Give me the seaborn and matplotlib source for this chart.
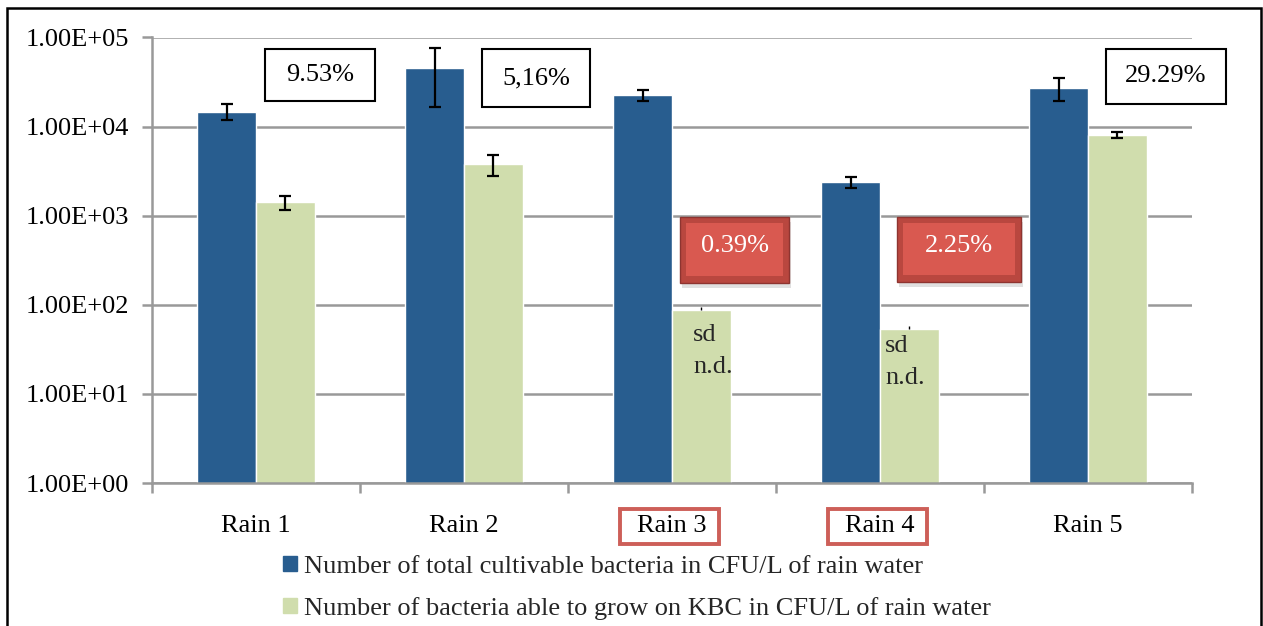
import pandas as pd
import matplotlib
matplotlib.use("Agg")
import matplotlib.pyplot as plt
import matplotlib.patches as mpatches
from matplotlib.ticker import FuncFormatter, FixedLocator
import seaborn as sns

sns.set_theme(style="white")
FONT = "Liberation Serif"
plt.rcParams['font.family'] = 'serif'
plt.rcParams['font.serif'] = [FONT, 'DejaVu Serif']

# Dữ liệu
categories = ["Rain 1", "Rain 2", "Rain 3", "Rain 4", "Rain 5"]
total_cfu = [14750, 46000, 22500, 2390, 27400]
total_err = [3000, 29500, 3200, 340, 7800]
kbc_cfu = [1415, 3810, 87, 53, 8070]
kbc_err = [260, 1050, 7, 5, 550]
kbc_sd_nd = [False, False, True, True, False]
series = ["Number of total cultivable bacteria in CFU/L of rain water",
          "Number of bacteria able to grow on KBC in CFU/L of rain water"]
percent_labels = ["9.53%", "5,16%", "0.39%", "2.25%", "29.29%"]

BLUE = "#285d8f"
GREEN = "#d0ddad"
FS = 19

df = pd.DataFrame({
    "rain": categories * 2,
    "value": total_cfu + kbc_cfu,
    "series": [series[0]] * 5 + [series[1]] * 5,
})

W, H = 1263, 626
fig = plt.figure(figsize=(W / 100, H / 100), dpi=100)
ax = fig.add_axes([152 / W, 1 - 483 / H, (1192 - 152) / W, (483 - 37.5) / H])

sns.barplot(data=df, x="rain", y="value", hue="series", order=categories,
            hue_order=series, palette=[BLUE, GREEN], width=0.567,
            saturation=1, ax=ax, legend=False, zorder=2)
ax.set_yscale("log")
ax.set_ylim(1, 1e5)
ax.set_xlim(-0.5, 4.5)

# error bars
blue_bars, green_bars = ax.containers[0], ax.containers[1]
xs = [b.get_x() + b.get_width() / 2 for b in blue_bars]
ax.errorbar(xs, total_cfu, yerr=total_err, fmt="none", ecolor="black",
            elinewidth=1.6, capsize=4.5, capthick=1.6, zorder=3)
for b, v, e, nd in zip(green_bars, kbc_cfu, kbc_err, kbc_sd_nd):
    x = b.get_x() + b.get_width() / 2
    if nd:
        ax.errorbar([x], [v], yerr=[[0], [e]], fmt="none", ecolor="black",
                    elinewidth=1, capsize=0, zorder=3)
    else:
        ax.errorbar([x], [v], yerr=e, fmt="none", ecolor="black",
                    elinewidth=1.6, capsize=4.5, capthick=1.6, zorder=3)

# trục
ax.yaxis.set_major_locator(FixedLocator([10 ** i for i in range(6)]))
ax.yaxis.set_minor_locator(FixedLocator([]))
ax.yaxis.set_major_formatter(FuncFormatter(lambda v, p: f"{v:.2E}"))
ax.grid(axis="y", color="#999999", linewidth=1.8, zorder=0)
ax.set_axisbelow(True)
for s in ["top", "right"]:
    ax.spines[s].set_visible(False)
for s in ["left", "bottom"]:
    ax.spines[s].set_color("#999999")
    ax.spines[s].set_linewidth(1.8)
ax.tick_params(axis="y", which="major", left=True, length=7, width=1.8,
               color="#999999", pad=9.5, labelsize=FS, labelcolor="black")
ax.set_xticks([-0.5, 0.5, 1.5, 2.5, 3.5, 4.5], minor=True)
ax.tick_params(axis="x", which="minor", bottom=True, length=7, width=1.8,
               color="#999999")
ax.tick_params(axis="x", which="major", length=0, pad=23, labelsize=FS,
               labelcolor="black")
ax.set_xlabel("")
ax.set_ylabel("")

# khung đỏ quanh Rain 3, Rain 4
for x0, y0, x1, y1 in [(620, 509, 719, 544), (828, 509, 927, 544)]:
    fig.patches.append(mpatches.Rectangle((x0 / W, 1 - y1 / H), (x1 - x0) / W,
                       (y1 - y0) / H, transform=fig.transFigure, facecolor="none",
                       edgecolor="#cd5f58", linewidth=2.8, zorder=5))

# "sd n.d." trên cột xanh lá
for px, py in [(693, 335), (885, 346)]:
    fig.text(px / W, 1 - py / H, "sd", fontsize=FS, va="center", ha="left")
    fig.text(px / W, 1 - (py + 32) / H, "n.d.", fontsize=FS, va="center", ha="left")

# hộp phần trăm
boxes = [(265, 49, 375, 101, False), (482, 49, 590, 107, False),
         (680, 217, 789, 283, True), (897, 217, 1021, 282, True),
         (1106, 49, 1226, 104, False)]
for (x0, y0, x1, y1, red), txt in zip(boxes, percent_labels):
    if red:
        fig.patches.append(mpatches.Rectangle(((x0 + 2) / W, 1 - (y1 + 5) / H),
                           (x1 - x0) / W, (y1 - y0) / H, transform=fig.transFigure,
                           facecolor="#999999", alpha=0.3, edgecolor="none", zorder=4))
        fig.patches.append(mpatches.Rectangle((x0 / W, 1 - y1 / H), (x1 - x0) / W,
                           (y1 - y0) / H, transform=fig.transFigure,
                           facecolor="#b9473f", edgecolor="#8e3430", linewidth=1, zorder=5))
        fig.patches.append(mpatches.Rectangle(((x0 + 6) / W, 1 - (y1 - 7) / H),
                           (x1 - x0 - 12) / W, (y1 - y0 - 13) / H, transform=fig.transFigure,
                           facecolor="#d95950", edgecolor="none", zorder=6))
        fig.text((x0 + x1) / 2 / W, 1 - ((y0 + y1) / 2 - 4) / H, txt, color="white",
                 fontsize=FS, ha="center", va="center", zorder=7)
    else:
        fig.patches.append(mpatches.Rectangle((x0 / W, 1 - y1 / H), (x1 - x0) / W,
                           (y1 - y0) / H, transform=fig.transFigure,
                           facecolor="white", edgecolor="black", linewidth=1.5, zorder=5))
        fig.text((x0 + x1) / 2 / W, 1 - (y0 + y1) / 2 / H, txt, color="black",
                 fontsize=FS, ha="center", va="center", zorder=7)

# chú thích
handles = [mpatches.Patch(color=BLUE), mpatches.Patch(color=GREEN)]
fig.legend(handles, series, loc="upper left", bbox_to_anchor=(283 / W, 1 - 556 / H),
           frameon=False, fontsize=FS, handlelength=0.53, handleheight=0.5,
           handletextpad=0.28, labelspacing=0.72, borderpad=0, borderaxespad=0)

# khung ngoài
fig.patches.append(mpatches.Rectangle((7 / W, -0.05), (1261 - 7) / W, 1.05 - 7.5 / H,
                   transform=fig.transFigure, facecolor="none", edgecolor="black",
                   linewidth=1.8, zorder=10))

fig.savefig("out.png", dpi=100)
